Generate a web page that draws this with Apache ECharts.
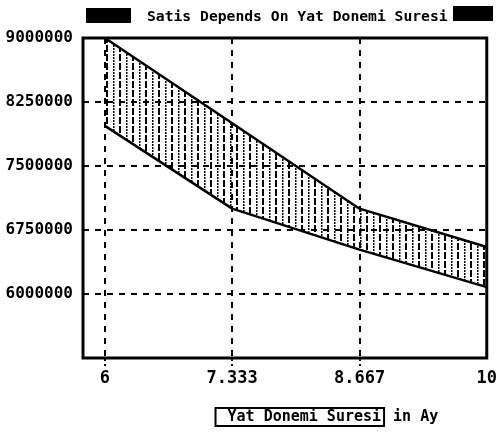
<!DOCTYPE html>
<html>
<head>
<meta charset="utf-8">
<script src="https://cdn.jsdelivr.net/npm/echarts@6/dist/echarts.min.js"></script>
<style>
  html, body { margin: 0; padding: 0; background: #fff; }
  #chart { width: 500px; height: 438px; }
</style>
</head>
<body>
<div id="chart"></div>
<script>
// Months of the period (Yat Donemi Suresi) and the sales band bounds
const months = [6, 7.333, 8.667, 10];
const upperSales = [9000000, 8000000, 7000000, 6550000];
const lowerSales = [7970000, 7000000, 6520000, 6080000];
const xTickLabels = ['6', '7.333', '8.667', '10'];
const yTickValues = [6000000, 6750000, 7500000, 8250000, 9000000];

const MONO = '"DejaVu Sans Mono", "Liberation Mono", monospace';

// vertical hatch used to fill the band: a heavier line alternating with a dotted one
function hatchPattern() {
  const c = document.createElement('canvas');
  c.width = 13; c.height = 9;
  const ctx = c.getContext('2d');
  ctx.fillStyle = '#000';
  ctx.fillRect(2, 0, 2, 7);
  ctx.fillRect(9, 0, 1.5, 2);
  ctx.fillRect(9, 3, 1.5, 2);
  ctx.fillRect(9, 6, 1.5, 2);
  return c;
}

// rows are [sales, month] so the sales column is the one that gets stacked
const lowerRows = months.map((m, i) => [lowerSales[i], m]);
const spanRows = months.map((m, i) => [upperSales[i] - lowerSales[i], m]);

const chart = echarts.init(document.getElementById('chart'));
chart.setOption({
  animation: false,
  backgroundColor: '#fff',
  title: {
    left: 142, top: 5,
    text: 'Satis Depends On Yat Donemi Suresi',
    textStyle: { fontFamily: MONO, fontSize: 14.7, fontWeight: 'bold', color: '#000' }
  },
  graphic: [
    // solid blocks framing the title
    { type: 'rect', left: 86, top: 8, shape: { width: 45, height: 15 }, style: { fill: '#000' } },
    { type: 'rect', left: 453, top: 6, shape: { width: 40, height: 15 }, style: { fill: '#000' } }
  ],
  grid: {
    left: 83, right: 7, top: 38, bottom: 80,
    show: true, borderColor: '#000', borderWidth: 3, backgroundColor: 'transparent'
  },
  xAxis: {
    type: 'value', min: 5.77, max: 10,
    axisLine: { show: false },
    axisTick: { show: true, inside: false, length: 8, customValues: months.slice(0, 3),
      lineStyle: { color: '#000', width: 2, type: [3, 3] } },
    axisLabel: {
      customValues: months, margin: 12,
      fontFamily: MONO, fontSize: 17, fontWeight: 'bold', color: '#000',
      formatter: v => xTickLabels[months.indexOf(v)] ?? ''
    },
    splitLine: { show: true, lineStyle: { color: '#000', width: 2, type: [6, 6] } },
    name: '{box|Yat Donemi Suresi} in Ay',
    nameLocation: 'middle', nameGap: 50,
    nameTextStyle: {
      fontFamily: MONO, fontSize: 15, fontWeight: 'bold', color: '#000',
      padding: [0, 0, 0, 84],
      rich: {
        box: {
          fontFamily: MONO, fontSize: 15, fontWeight: 'bold', color: '#000',
          borderColor: '#000', borderWidth: 2, padding: [2, 3, 1, 12]
        }
      }
    }
  },
  yAxis: {
    type: 'value', min: 5250000, max: 9000000, interval: 750000,
    axisLine: { show: false },
    axisTick: { show: false },
    axisLabel: {
      margin: 10,
      fontFamily: MONO, fontSize: 16, fontWeight: 'bold', color: '#000',
      formatter: v => (yTickValues.indexOf(v) >= 0 ? String(v) : '')
    },
    splitLine: { show: true, lineStyle: { color: '#000', width: 2, type: [6, 6] } }
  },
  series: [
    {
      name: 'lower', type: 'line', stack: 'band', data: lowerRows,
      encode: { x: 1, y: 0 },
      symbol: 'none', lineStyle: { color: '#000', width: 2.5 }, z: 3
    },
    {
      name: 'upper', type: 'line', stack: 'band', data: spanRows,
      encode: { x: 1, y: 0 },
      symbol: 'none', lineStyle: { color: '#000', width: 2.5 },
      areaStyle: { color: { image: hatchPattern(), repeat: 'repeat' }, opacity: 1 },
      z: 3
    }
  ]
});
</script>
</body>
</html>
